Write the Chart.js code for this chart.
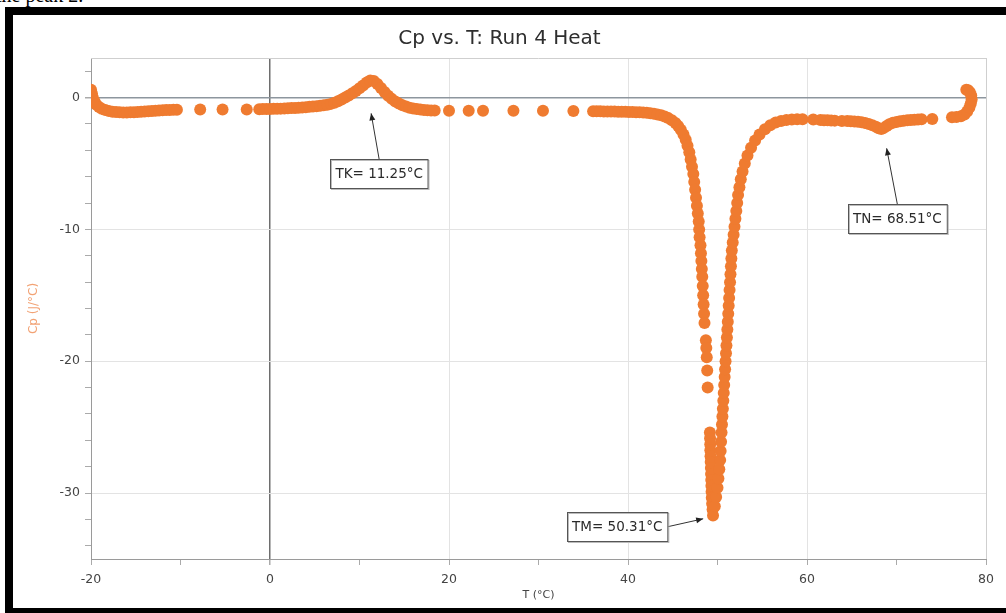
<!DOCTYPE html>
<html>
<head>
<meta charset="utf-8">
<script src="https://cdn.jsdelivr.net/npm/chart.js@4.4.1/dist/chart.umd.min.js"></script>
<style>
  html, body { margin: 0; padding: 0; background: #fff; overflow: hidden; }
  body { width: 1006px; height: 613px; position: relative; }
  .cut { position: absolute; left: -4px; top: -16px; font: 20px "Liberation Serif", serif; color: #000; white-space: nowrap; }
  .frame { position: absolute; left: 5px; top: 7px; width: 1000px; height: 593px; border: 8px solid #000; border-right: none; background: #fff; }
  #wrap { position: absolute; left: 0; top: 0; width: 993px; height: 593px; }
</style>
</head>
<body>
<div class="cut">the peak 2.</div>
<div class="frame">
  <div id="wrap"><canvas id="cpChart" width="993" height="593"></canvas></div>
</div>
<script>
// Temperature (°C) of each measured point
const tempC = [
  -20.0, -19.9, -19.8, -19.6, -19.4, -19.1, -18.8, -18.4, -18.0, -17.6,
  -17.2, -16.8, -16.4, -16.0, -15.6, -15.2, -14.8, -14.4, -14.0, -13.6,
  -13.2, -12.8, -12.4, -12.0, -11.6, -11.2, -10.8, -10.4,
  -7.8, -5.3, -2.6,
  -1.2, -0.8, -0.4, 0.0, 0.4, 0.8, 1.2, 1.6, 2.0, 2.4,
  2.8, 3.2, 3.6, 4.0, 4.4, 4.8, 5.2, 5.6, 6.0, 6.4,
  6.8, 7.2, 7.6, 8.0, 8.4, 8.8, 9.2, 9.6, 10.0, 10.4,
  10.8, 11.2, 11.6, 12.0, 12.4, 12.8, 13.2, 13.6, 14.0, 14.4,
  14.8, 15.2, 15.6, 16.0, 16.4, 16.8, 17.2, 17.6, 18.0, 18.4,
  20.0, 22.2, 23.8, 27.2, 30.5, 33.9,
  36.1, 36.5, 36.9, 37.3, 37.7, 38.1, 38.5, 38.9, 39.3, 39.7,
  40.1, 40.5, 40.9, 41.3, 41.7, 42.1, 42.5, 42.9, 43.3, 43.7,
  44.1, 44.5, 44.9, 45.3, 45.6, 45.9, 46.2,
  46.45, 46.65, 46.85, 47.0, 47.15, 47.3, 47.4, 47.5, 47.6, 47.7,
  47.8, 47.9, 47.95, 48.0, 48.1, 48.15, 48.2, 48.25, 48.3, 48.35,
  48.4, 48.45, 48.5, 48.55, 48.7, 48.75, 48.8, 48.85, 48.9,
  49.15, 49.17, 49.19, 49.2, 49.22, 49.24, 49.26, 49.28, 49.3, 49.32,
  49.34, 49.36, 49.4, 49.45, 49.5,
  49.7, 49.85, 50.0, 50.1, 50.2, 50.3, 50.35, 50.4, 50.45, 50.5,
  50.55, 50.6, 50.65, 50.7, 50.75, 50.8, 50.85, 50.9, 50.95, 51.0,
  51.05, 51.1, 51.15, 51.2, 51.25, 51.3, 51.35, 51.4, 51.45, 51.5,
  51.55, 51.6, 51.7, 51.8, 51.9, 52.0, 52.1, 52.2, 52.3, 52.45,
  52.6, 52.8, 53.05, 53.35, 53.75, 54.2, 54.7, 55.3, 55.9, 56.5,
  57.1, 57.7, 58.3, 58.9, 59.5, 60.7, 61.5, 61.9, 62.3, 62.7,
  63.1, 63.9, 64.5, 64.9, 65.3, 65.7, 66.1, 66.5, 66.9, 67.3,
  67.7, 68.0, 68.3, 68.6, 68.9, 69.2, 69.6, 70.0, 70.4, 70.8,
  71.2, 71.6, 72.0, 72.4, 72.8, 74.0,
  76.2, 76.7, 77.2, 77.6, 77.9, 78.15, 78.3, 78.4, 78.35, 78.2,
  78.0, 77.8
];

// Heat capacity Cp (J/°C) of each measured point
const cpValues = [
  0.6, 0.3, 0.0, -0.3, -0.55, -0.72, -0.85, -0.95, -1.02, -1.07,
  -1.1, -1.12, -1.13, -1.13, -1.12, -1.11, -1.1, -1.08, -1.06, -1.04,
  -1.02, -1.0, -0.98, -0.96, -0.95, -0.94, -0.93, -0.92,
  -0.9, -0.9, -0.9,
  -0.88, -0.87, -0.87, -0.86, -0.85, -0.85, -0.84, -0.83, -0.82, -0.8,
  -0.79, -0.77, -0.75, -0.73, -0.7, -0.68, -0.66, -0.62, -0.58, -0.54,
  -0.48, -0.4, -0.28, -0.14, 0.0, 0.16, 0.32, 0.5, 0.7, 0.92,
  1.14, 1.3, 1.25, 1.02, 0.72, 0.42, 0.14, -0.1, -0.3, -0.46,
  -0.58, -0.67, -0.77, -0.83, -0.87, -0.91, -0.94, -0.96, -0.98, -0.99,
  -1.0, -1.0, -1.0, -1.0, -1.0, -1.02,
  -1.03, -1.04, -1.04, -1.05, -1.05, -1.06, -1.06, -1.07, -1.08, -1.08,
  -1.09, -1.1, -1.11, -1.12, -1.14, -1.16, -1.19, -1.23, -1.28, -1.35,
  -1.44, -1.56, -1.72, -1.93, -2.15, -2.45, -2.8,
  -3.2, -3.65, -4.15, -4.7, -5.25, -5.8, -6.4, -7.0, -7.6, -8.2,
  -8.8, -9.4, -10.0, -10.6, -11.2, -11.8, -12.4, -13.0, -13.6, -14.3,
  -15.0, -15.7, -16.4, -17.1, -18.4, -19.0, -19.7, -20.7, -22.0,
  -25.4, -25.85, -26.3, -26.75, -27.2, -27.65, -28.1, -28.55, -29.0, -29.45,
  -29.9, -30.35, -30.8, -31.25, -31.7,
  -31.0, -30.3, -29.6, -28.9, -28.2, -27.5, -26.8, -26.1, -25.4, -24.8,
  -24.2, -23.6, -23.0, -22.4, -21.8, -21.2, -20.6, -20.0, -19.4, -18.8,
  -18.2, -17.6, -17.0, -16.4, -15.8, -15.2, -14.6, -14.0, -13.4, -12.8,
  -12.2, -11.6, -11.0, -10.4, -9.8, -9.2, -8.6, -8.0, -7.4, -6.8,
  -6.2, -5.6, -5.0, -4.4, -3.8, -3.25, -2.8, -2.4, -2.1, -1.9,
  -1.78, -1.7, -1.66, -1.64, -1.64, -1.66, -1.7, -1.72, -1.73, -1.74,
  -1.75, -1.77, -1.78, -1.8, -1.82, -1.84, -1.88, -1.93, -2.0, -2.1,
  -2.22, -2.32, -2.38, -2.3, -2.15, -2.02, -1.92, -1.85, -1.8, -1.76,
  -1.72, -1.7, -1.68, -1.66, -1.64, -1.62,
  -1.5, -1.48, -1.42, -1.28, -1.05, -0.75, -0.45, -0.15, 0.15, 0.4,
  0.55, 0.6
];

const xTickLabels = [-20, 0, 20, 40, 60, 80];
const yTickLabels = [-30, -20, -10, 0];

// Peak labels with arrow tips, in data units
const peakNotes = [
  { text: 'TK= 11.25°C', boxT: 12.2, boxCp: -5.75, tipT: 11.3, tipCp: -1.2, from: 'top' },
  { text: 'TN= 68.51°C', boxT: 70.1, boxCp: -9.15, tipT: 68.9, tipCp: -3.85, from: 'top' },
  { text: 'TM= 50.31°C', boxT: 38.8, boxCp: -32.55, tipT: 48.4, tipCp: -31.95, from: 'right' }
];

const FONT = 'DejaVu Sans';

const points = tempC.map((t, i) => ({ x: t, y: cpValues[i] }));

// Top border of the plot box
const frameTop = {
  id: 'frameTop',
  beforeDatasetsDraw(chart) {
    const { ctx, chartArea } = chart;
    ctx.save();
    ctx.strokeStyle = '#cfcfcf';
    ctx.lineWidth = 1;
    ctx.beginPath();
    ctx.moveTo(chartArea.left, chartArea.top + 0.5);
    ctx.lineTo(chartArea.right, chartArea.top + 0.5);
    ctx.stroke();
    ctx.restore();
  }
};

// Boxes and arrows for the peak temperatures
const peakLabels = {
  id: 'peakLabels',
  afterDatasetsDraw(chart) {
    const { ctx, scales } = chart;
    ctx.save();
    ctx.font = '13.5px "' + FONT + '"';
    ctx.textAlign = 'center';
    ctx.textBaseline = 'middle';
    peakNotes.forEach(note => {
      const cx = scales.x.getPixelForValue(note.boxT);
      const cy = scales.y.getPixelForValue(note.boxCp);
      const tx = scales.x.getPixelForValue(note.tipT);
      const ty = scales.y.getPixelForValue(note.tipCp);
      const w = ctx.measureText(note.text).width + 10;
      const h = 29;
      const bx = Math.round(cx - w / 2) + 0.5;
      const by = Math.round(cy - h / 2) + 0.5;

      // arrow
      let sx = cx, sy = by;
      if (note.from === 'right') { sx = bx + w; sy = cy; }
      ctx.strokeStyle = '#333';
      ctx.fillStyle = '#222';
      ctx.lineWidth = 1;
      ctx.beginPath();
      ctx.moveTo(sx, sy);
      ctx.lineTo(tx, ty);
      ctx.stroke();
      const ang = Math.atan2(ty - sy, tx - sx);
      ctx.beginPath();
      ctx.moveTo(tx, ty);
      ctx.lineTo(tx - 7 * Math.cos(ang) + 3 * Math.sin(ang), ty - 7 * Math.sin(ang) - 3 * Math.cos(ang));
      ctx.lineTo(tx - 7 * Math.cos(ang) - 3 * Math.sin(ang), ty - 7 * Math.sin(ang) + 3 * Math.cos(ang));
      ctx.closePath();
      ctx.fill();

      // box
      ctx.fillStyle = '#fff';
      ctx.fillRect(bx, by, w, h);
      ctx.strokeStyle = '#bbb';
      ctx.strokeRect(bx + 1, by + 1, w, h);
      ctx.strokeStyle = '#555';
      ctx.strokeRect(bx, by, w, h);
      ctx.fillStyle = '#2a2a2a';
      ctx.fillText(note.text, cx, cy + 1);
    });
    ctx.restore();
  }
};

new Chart(document.getElementById('cpChart'), {
  type: 'scatter',
  data: {
    datasets: [{
      label: 'Cp',
      data: points,
      backgroundColor: '#ef7b30',
      borderWidth: 0,
      pointRadius: 6,
      pointHoverRadius: 6
    }]
  },
  options: {
    responsive: false,
    animation: false,
    devicePixelRatio: 1,
    layout: { padding: { left: 0, right: 20, top: 0, bottom: 0 } },
    plugins: {
      legend: { display: false },
      tooltip: { enabled: false },
      title: {
        display: true,
        text: 'Cp vs. T: Run 4 Heat',
        color: '#2e2e2e',
        font: { family: FONT, size: 20, weight: 'normal' },
        padding: { top: 12, bottom: 7 }
      }
    },
    scales: {
      x: {
        type: 'linear',
        min: -20,
        max: 80,
        afterFit: s => { s.height = 49; },
        ticks: {
          stepSize: 10,
          autoSkip: false,
          maxRotation: 0,
          padding: 7,
          color: '#444',
          font: { family: FONT, size: 12.5 },
          callback: v => xTickLabels.includes(v) ? String(v) : ''
        },
        grid: {
          color: c => {
            const v = c.tick.value;
            if (v === 0) return '#6e6e6e';
            if (v === 80) return '#cfcfcf';
            return v % 20 === 0 ? '#e3e3e3' : 'rgba(0,0,0,0)';
          },
          lineWidth: c => c.tick.value === 0 ? 1.5 : 1,
          tickColor: '#aaa',
          tickLength: 6
        },
        border: { color: '#9a9a9a' },
        title: {
          display: true,
          text: 'T (°C)',
          color: '#444',
          font: { family: FONT, size: 11 },
          padding: { top: 0, bottom: 6 }
        }
      },
      y: {
        min: -35,
        max: 3,
        afterFit: s => { s.width = 78; },
        afterBuildTicks: axis => {
          const t = [];
          for (let v = -34; v <= 2; v += 2) t.push({ value: v });
          axis.ticks = t;
        },
        ticks: {
          padding: 5,
          color: '#444',
          font: { family: FONT, size: 12.5 },
          callback: v => yTickLabels.includes(v) ? String(v) : ''
        },
        grid: {
          color: c => {
            const v = c.tick.value;
            if (v === 0) return '#8d969e';
            return v % 10 === 0 ? '#e3e3e3' : 'rgba(0,0,0,0)';
          },
          lineWidth: c => c.tick.value === 0 ? 1.5 : 1,
          tickColor: '#aaa',
          tickLength: 6
        },
        border: { color: '#9a9a9a' },
        title: {
          display: true,
          text: 'Cp (J/°C)',
          color: '#f2a274',
          font: { family: FONT, size: 12 },
          padding: { top: 14, bottom: 0 }
        }
      }
    }
  },
  plugins: [frameTop, peakLabels]
});
</script>
</body>
</html>
